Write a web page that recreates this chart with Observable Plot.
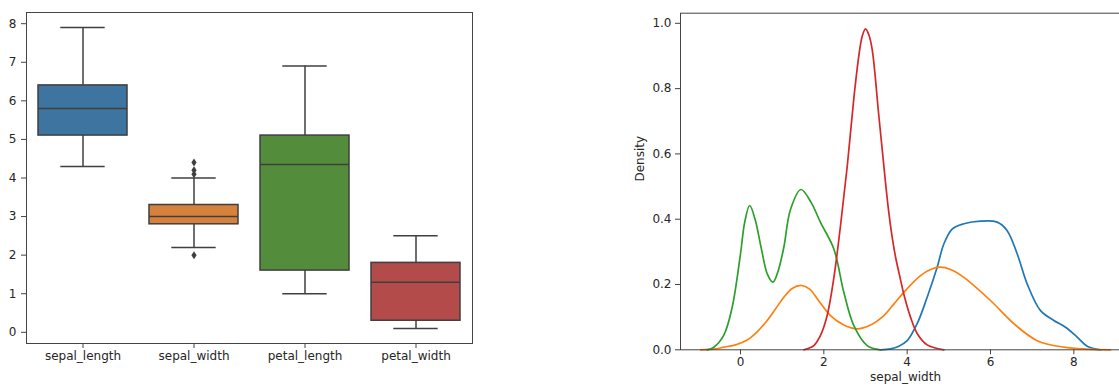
<!DOCTYPE html>
<html><head><meta charset="utf-8">
<script src="https://cdn.jsdelivr.net/npm/d3@7"></script>
<script src="https://cdn.jsdelivr.net/npm/@observablehq/plot@0.6"></script>
<style>
html,body{margin:0;padding:0;background:#fff;overflow:hidden;width:1119px;height:388px;}
#left{position:absolute;left:0;top:0;width:480px;height:388px;}
#right{position:absolute;left:600px;top:0;width:540px;height:388px;}
</style></head><body>
<div id="left"></div><div id="right"></div>
<script>
// ---- Left: box plot summary values ----
const categories = ["sepal_length", "sepal_width", "petal_length", "petal_width"];
const boxColors = ["#3e74a0", "#d6823c", "#538c3a", "#b24b4a"];
const q1 = [5.1, 2.8, 1.6, 0.3];
const medians = [5.8, 3.0, 4.35, 1.3];
const q3 = [6.4, 3.3, 5.1, 1.8];
const whiskerLow = [4.3, 2.2, 1.0, 0.1];
const whiskerHigh = [7.9, 4.0, 6.9, 2.5];
const outlierCategory = ["sepal_width", "sepal_width", "sepal_width", "sepal_width"];
const outlierValues = [4.4, 4.1, 4.2, 2.0];
const boxTicks = [0, 1, 2, 3, 4, 5, 6, 7, 8];

// ---- Right: density curves ----
const kdeNames = ["sepal_length", "petal_length", "petal_width", "sepal_width"];
const kdeColors = ["#1f77b4", "#ff7f0e", "#2ca02c", "#d62728"];
const sepalLengthX = [3.36, 3.6, 3.8, 4.0, 4.24, 4.48, 4.72, 4.88, 5.08, 5.36, 5.76, 6.16, 6.4, 6.64, 6.88, 7.2, 7.52, 7.8, 8.08, 8.32, 8.64];
const sepalLengthD = [0, 0.003, 0.011, 0.028, 0.08, 0.161, 0.253, 0.324, 0.37, 0.386, 0.394, 0.391, 0.365, 0.294, 0.202, 0.12, 0.09, 0.069, 0.039, 0.011, 0];
const petalLengthX = [-0.96, -0.6, -0.4, -0.1, 0.16, 0.4, 0.64, 0.84, 1.04, 1.24, 1.46, 1.66, 1.86, 2.16, 2.48, 2.8, 3.12, 3.44, 3.68, 3.92, 4.32, 4.56, 4.8, 5.04, 5.36, 6.0, 6.56, 7.12, 7.76, 8.3, 8.88];
const petalLengthD = [0, 0.003, 0.008, 0.016, 0.03, 0.055, 0.09, 0.125, 0.161, 0.188, 0.197, 0.186, 0.153, 0.105, 0.076, 0.064, 0.076, 0.105, 0.14, 0.176, 0.227, 0.246, 0.253, 0.246, 0.222, 0.151, 0.08, 0.028, 0.008, 0.002, 0];
const petalWidthX = [-0.8, -0.64, -0.4, -0.2, 0, 0.1, 0.22, 0.35, 0.5, 0.65, 0.78, 0.9, 1.04, 1.2, 1.45, 1.7, 1.92, 2.24, 2.48, 2.72, 3.04, 3.36];
const petalWidthD = [0, 0.008, 0.045, 0.13, 0.294, 0.39, 0.442, 0.40, 0.31, 0.23, 0.207, 0.24, 0.314, 0.43, 0.491, 0.45, 0.39, 0.309, 0.176, 0.074, 0.013, 0];
const sepalWidthX = [1.52, 1.76, 1.92, 2.08, 2.24, 2.4, 2.56, 2.72, 2.84, 2.92, 3.0, 3.08, 3.16, 3.32, 3.48, 3.56, 3.64, 3.72, 3.84, 3.92, 4.08, 4.24, 4.48, 4.88];
const sepalWidthD = [0, 0.013, 0.044, 0.105, 0.22, 0.38, 0.56, 0.77, 0.90, 0.96, 0.983, 0.965, 0.92, 0.717, 0.513, 0.42, 0.345, 0.285, 0.215, 0.17, 0.10, 0.05, 0.015, 0];
const densityTicks = [0, 0.2, 0.4, 0.6, 0.8, 1.0];
const xTicks = [0, 2, 4, 6, 8];

// ---- build tables ----
const boxes = categories.map((c, i) => ({cat: c, q1: q1[i], med: medians[i], q3: q3[i], lo: whiskerLow[i], hi: whiskerHigh[i]}));
const outliers = outlierValues.map((v, i) => ({cat: outlierCategory[i], v}));
const seriesX = [sepalLengthX, petalLengthX, petalWidthX, sepalWidthX];
const seriesD = [sepalLengthD, petalLengthD, petalWidthD, sepalWidthD];
const kde = kdeNames.flatMap((n, s) => seriesX[s].map((x, i) => ({series: n, x, d: seriesD[s][i]})));

const thinDiamond = {
  draw(ctx, size) {
    const r = Math.sqrt(size / Math.PI);
    const w = r * 0.65;
    ctx.moveTo(0, -r); ctx.lineTo(w, 0); ctx.lineTo(0, r); ctx.lineTo(-w, 0); ctx.closePath();
  }
};

const edge = "#3f3f3f";
const font = {fontFamily: "'DejaVu Sans', sans-serif", fontSize: "12px", color: "#262626", background: "transparent", maxWidth: "none", overflow: "visible"};

const mL = 26, mR = 8, W1 = 480;
const capInset = ((W1 - mL - mR) / 4) * 0.8 / 4;

const left = Plot.plot({
  width: W1, height: 388, marginLeft: mL, marginRight: mR, marginTop: 12, marginBottom: 45,
  style: font,
  x: {domain: categories, paddingInner: 0.2, paddingOuter: 0.1},
  y: {domain: [-0.29, 8.29]},
  color: {domain: categories, range: boxColors},
  marks: [
    Plot.ruleX(boxes, {x: "cat", y1: "lo", y2: "q1", stroke: edge, strokeWidth: 1.5}),
    Plot.ruleX(boxes, {x: "cat", y1: "q3", y2: "hi", stroke: edge, strokeWidth: 1.5}),
    Plot.tickY(boxes, {x: "cat", y: "lo", stroke: edge, strokeWidth: 1.5, insetLeft: capInset, insetRight: capInset}),
    Plot.tickY(boxes, {x: "cat", y: "hi", stroke: edge, strokeWidth: 1.5, insetLeft: capInset, insetRight: capInset}),
    Plot.barY(boxes, {x: "cat", y1: "q1", y2: "q3", fill: "cat", stroke: edge, strokeWidth: 1.5}),
    Plot.tickY(boxes, {x: "cat", y: "med", stroke: edge, strokeWidth: 1.5}),
    Plot.dot(outliers, {x: "cat", y: "v", symbol: thinDiamond, r: 4, fill: edge, stroke: "none"}),
    Plot.frame({stroke: "#444", strokeWidth: 1}),
    Plot.axisY({ticks: boxTicks, tickSize: 5, tickPadding: 5, label: null, stroke: "#444"}),
    Plot.axisX({tickSize: 5, tickPadding: 3, label: null, stroke: "#444"})
  ]
});
document.getElementById("left").appendChild(left);

const right = Plot.plot({
  width: 540, height: 388, marginLeft: 80, marginRight: 10, marginTop: 12.7, marginBottom: 38.7,
  style: font,
  x: {domain: [-1.44, 9.36]},
  y: {domain: [0, 1.031]},
  color: {domain: kdeNames, range: kdeColors},
  marks: [
    Plot.line(kde, {x: "x", y: "d", z: "series", stroke: "series", curve: "catmull-rom", strokeWidth: 1.7}),
    Plot.frame({stroke: "#444", strokeWidth: 1}),
    Plot.axisY({ticks: densityTicks, tickFormat: d3.format(".1f"), tickSize: 5, tickPadding: 4, label: null, stroke: "#444"}),
    Plot.axisX({ticks: xTicks, tickSize: 5, tickPadding: 3, label: null, stroke: "#444"}),
    Plot.text(["Density"], {text: d => d, frameAnchor: "left", rotate: -90, dx: -40.7, fill: "#262626"}),
    Plot.text(["sepal_width"], {text: d => d, frameAnchor: "bottom", dy: 30.7, fill: "#262626"})
  ]
});
document.getElementById("right").appendChild(right);
</script>
</body></html>
